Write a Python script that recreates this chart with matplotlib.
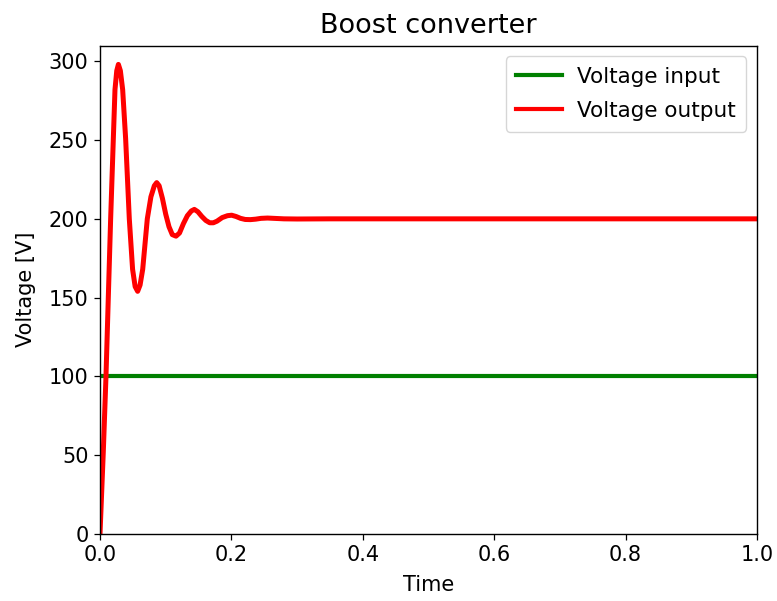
import matplotlib
matplotlib.use("Agg")
import matplotlib.pyplot as plt

# Data
time_in = [0.0, 1.0]
v_in = [100, 100]

time_out = [0.0, 0.005, 0.0091, 0.0127, 0.0162, 0.0203, 0.0228, 0.0255, 0.028,
            0.031, 0.0345, 0.039, 0.0446, 0.0496, 0.0535, 0.0573, 0.061, 0.065,
            0.072, 0.0775, 0.0827, 0.0863, 0.090, 0.095, 0.100, 0.105, 0.110,
            0.1157, 0.121, 0.127, 0.133, 0.139, 0.1436, 0.149, 0.155, 0.161,
            0.167, 0.1725, 0.178, 0.186, 0.194, 0.2004, 0.207, 0.214, 0.221,
            0.229, 0.237, 0.245, 0.255, 0.265, 0.28, 0.30, 0.35, 0.5, 1.0]
v_out = [0, 52, 100, 151, 200, 251, 282, 294, 298,
         294, 282, 251, 200, 168, 157, 154, 158, 168,
         200, 214, 221, 223, 221, 213, 203, 195, 190,
         189, 191, 197, 202, 205, 206, 204.5, 201.5, 199,
         197.5, 197.5, 198.5, 200.8, 202, 202.3, 201.5, 200.3, 199.6,
         199.5, 199.8, 200.3, 200.5, 200.3, 200, 199.9, 200, 200, 200]

x_ticks = [0.0, 0.2, 0.4, 0.6, 0.8, 1.0]
y_ticks = [0, 50, 100, 150, 200, 250, 300]

fig = plt.figure(figsize=(7.77, 6.01), dpi=100)
ax = fig.add_axes([100/777, (601-534)/601, 657/777, (534-45.5)/601])

ax.plot(time_in, v_in, color="green", linewidth=3, label="Voltage input")
ax.plot(time_out, v_out, color="red", linewidth=3.6, label="Voltage output",
        solid_joinstyle="round")

ax.set_xlim(0, 1.0)
ax.set_ylim(0, 310)
ax.set_xticks(x_ticks)
ax.set_yticks(y_ticks)
ax.tick_params(labelsize=15, length=4.2, width=0.9, pad=4)
for s in ax.spines.values():
    s.set_linewidth(1.0)

ax.set_title("Boost converter", fontsize=19.5, pad=9)
ax.set_xlabel("Time", fontsize=15, labelpad=7)
ax.set_ylabel("Voltage [V]", fontsize=15, labelpad=9)
leg = ax.legend(loc="upper right", fontsize=15.5, labelspacing=0.65,
                handlelength=2.1, handletextpad=0.7, borderpad=0.5)
for line in leg.get_lines():
    line.set_linewidth(3)

fig.savefig("out.png", dpi=100)
